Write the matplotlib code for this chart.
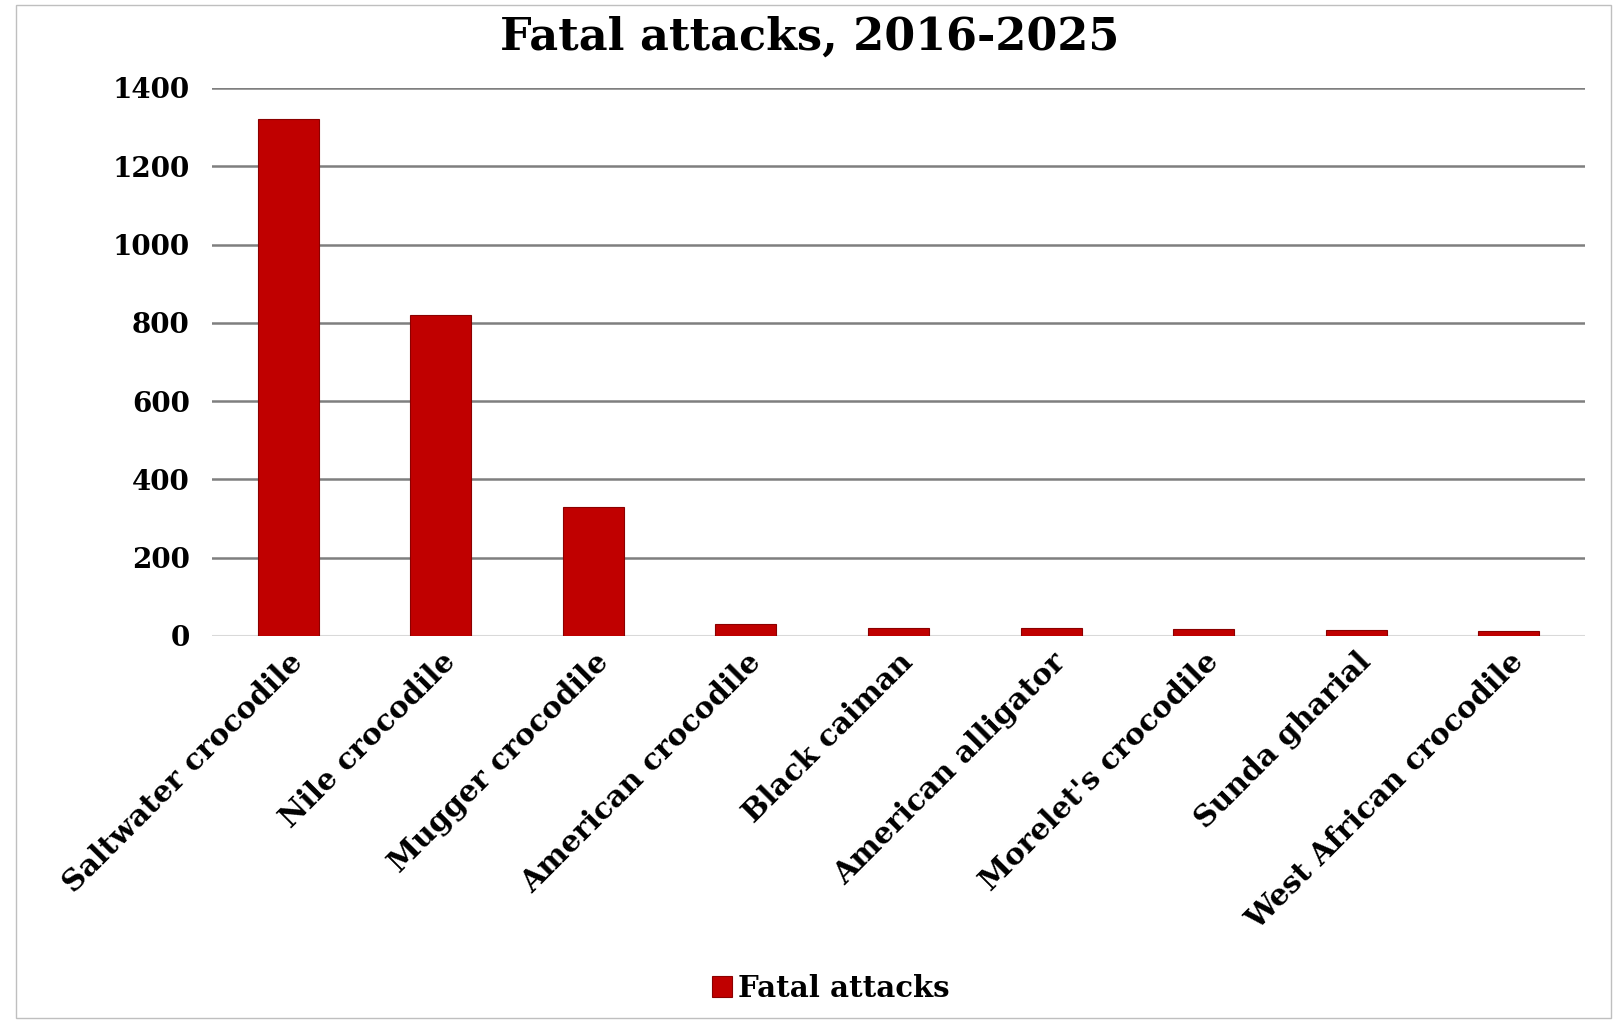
import matplotlib.pyplot as plt
import numpy as np

species = ['Saltwater crocodile', 'Nile crocodile', 'Mugger crocodile',
           'American crocodile', 'Black caiman', 'American alligator',
           "Morelet's crocodile", 'Sunda gharial', 'West African crocodile']
fatal_attacks = [1320, 820, 330, 30, 21, 20, 19, 15, 13]
yticks = [0, 200, 400, 600, 800, 1000, 1200, 1400]

plt.rcParams['font.family'] = ['DejaVu Serif']
plt.rcParams['font.weight'] = 'bold'

fig = plt.figure(figsize=(16.19, 10.23), dpi=100)
ax = fig.add_axes([212 / 1619, 1 - 636 / 1023, (1585 - 212) / 1619, (636 - 88) / 1023])

x = np.arange(len(species))
ax.bar(x, fatal_attacks, 0.4, color='#c00000', edgecolor='#8b0000',
       linewidth=0.8, label='Fatal attacks', zorder=3)

ax.set_xlim(-0.5, len(species) - 0.5)
ax.set_ylim(0, 1400)
ax.set_yticks(yticks)
ax.set_yticklabels([str(v) for v in yticks], fontsize=20, fontweight='bold')
for v in yticks[1:]:
    ax.axhline(v, color='#7f7f7f', linewidth=1.8, zorder=1)
ax.axhline(0, color='#d9d9d9', linewidth=1.5, zorder=2)

ax.set_xticks(x)
ax.set_xticklabels(species, rotation=45, ha='right', rotation_mode='anchor',
                   fontsize=21.5, fontweight='bold')
ax.tick_params(axis='x', length=0, pad=8)
ax.tick_params(axis='y', length=0, pad=16)
for s in ax.spines.values():
    s.set_visible(False)

fig.suptitle('Fatal attacks, 2016-2025', y=0.985, fontsize=32, fontweight='bold')
fig.legend(loc='lower center', bbox_to_anchor=(0.513, -0.006), frameon=False,
           fontsize=21, handlelength=0.7, handleheight=0.7, handletextpad=0.2)

# thin frame round the whole picture
fig.patches.append(plt.Rectangle((0.01, 0.005), 0.985, 0.99, transform=fig.transFigure,
                                 fill=False, edgecolor='#bfbfbf', linewidth=1))

fig.savefig('out.png', dpi=100)
